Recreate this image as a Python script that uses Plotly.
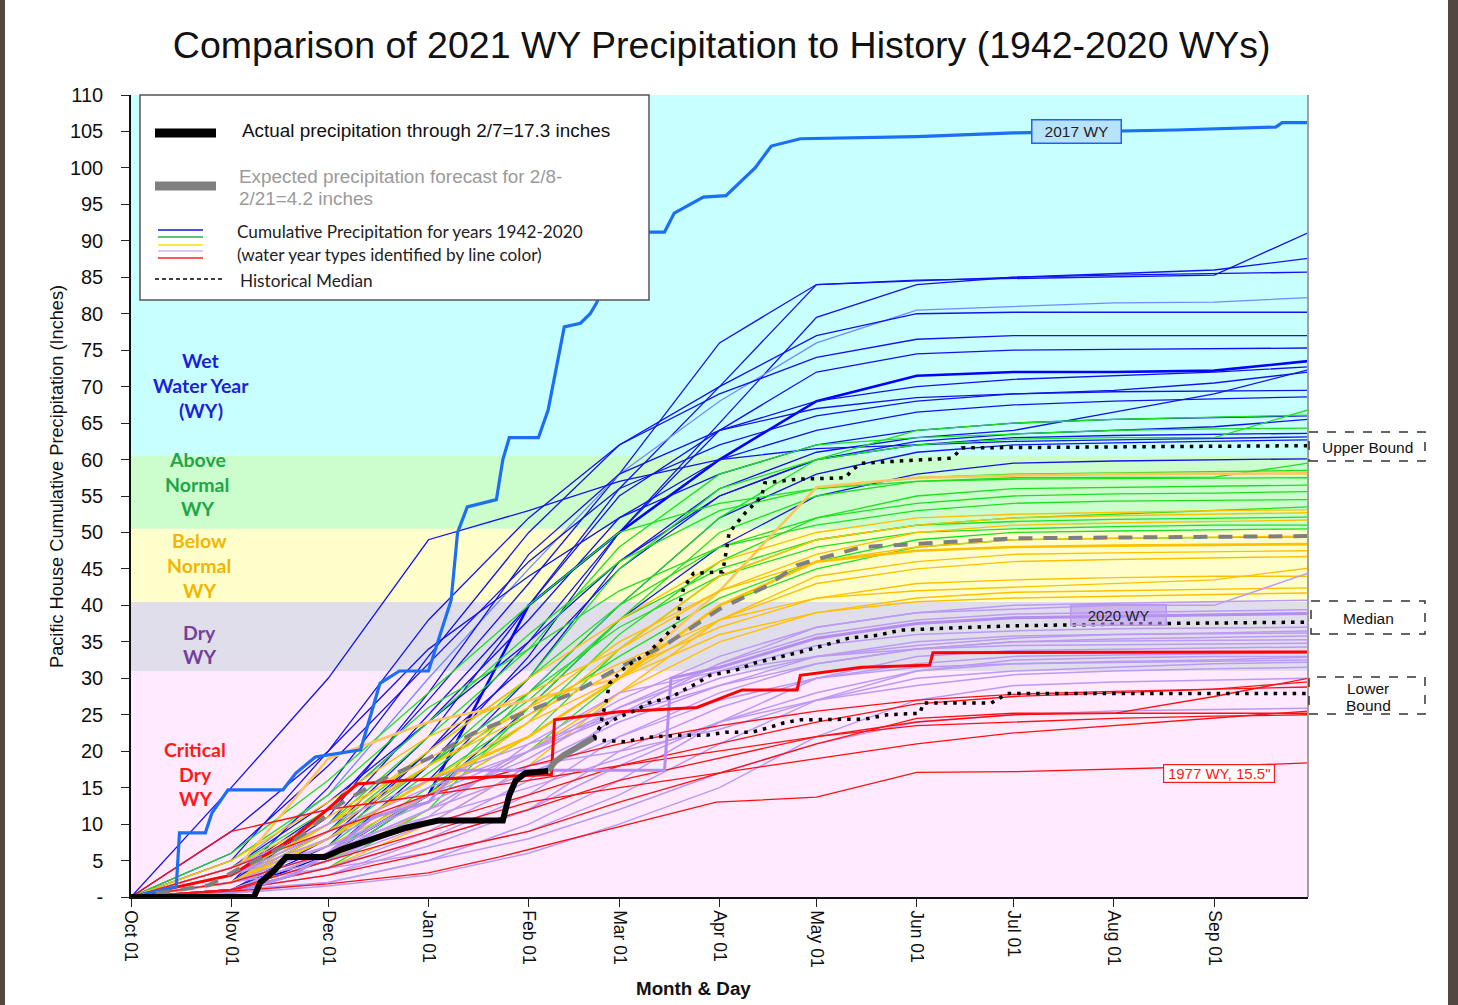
import plotly.graph_objects as go

# ---------------- DATA ----------------
MONTH_DATES = ["2020-10-01", "2020-11-01", "2020-12-01", "2021-01-01", "2021-02-01",
               "2021-03-01", "2021-04-01", "2021-05-01", "2021-06-01", "2021-07-01",
               "2021-08-01", "2021-09-01", "2021-09-30"]

WET_YEARS = [
    [0, 2, 12, 27, 43, 58, 76, 84, 84.6, 84.8, 85, 85.3, 91.1],
    [0, 3, 9, 22, 40, 56, 70, 84, 84.5, 85, 85.5, 86, 87.6],
    [0, 1, 7, 20, 35, 50, 65, 79.5, 84, 85, 85.3, 85.5, 85.7],
    [0, 4, 14, 30, 45, 58, 68, 76, 80.5, 81, 81.5, 81.6, 82.2],
    [0, 2, 15, 33, 50, 62, 70, 77, 80, 80.2, 80.2, 80.2, 80.2],
    [0, 5, 20, 38, 52, 62, 69, 74, 76.5, 77, 77, 77, 77],
    [0, 1, 6, 18, 33, 50, 64, 72, 74.5, 75, 75.1, 75.2, 75.3],
    [0, 0.5, 6, 14, 40, 50, 60, 68, 71.5, 72, 72, 72.2, 73.5],
    [0, 3, 10, 25, 40, 55, 64, 68, 70, 71, 71.5, 72, 72.7],
    [0, 6, 18, 32, 46, 56, 62, 66, 68, 69, 69.5, 70.5, 72],
    [0, 2, 11, 28, 47, 58, 64, 67, 68.5, 69, 69.3, 69.4, 69.5],
    [0, 4, 13, 24, 38, 52, 60, 64, 66.5, 67.5, 68, 68.3, 68.6],
    [0, 1, 8, 20, 32, 45, 55, 60, 62.5, 63.5, 64, 64.5, 65.5],
    [0, 3, 12, 24, 35, 46, 55, 60, 62, 63, 63.3, 63.5, 63.6],
    [0, 15, 30, 49, 53, 57, 60, 61.5, 62, 62.5, 62.7, 62.9, 63.1],
    [0, 2, 9, 18, 28, 40, 52, 58, 61, 62, 62.3, 62.5, 62.7],
    [0, 1, 5, 14, 26, 38, 48, 55, 58, 59.5, 59.8, 60, 60.1],
    [0, 9, 20, 34, 44, 52, 58, 62, 64, 65, 65.5, 65.8, 66],
    [0, 2, 8, 16, 30, 46, 56, 61, 63, 64, 66.5, 69, 72.3],
]

ABOVE_NORMAL_YEARS = [
    [0, 2, 8, 18, 30, 45, 56, 60, 62, 62.8, 63, 63, 66.8],
    [0, 1, 5, 14, 28, 40, 52, 60, 64, 65, 65.5, 65.8, 66.1],
    [0, 3, 10, 22, 34, 48, 58, 62, 63, 63.5, 64, 64.2, 64.3],
    [0, 2, 7, 17, 27, 38, 50, 55, 57, 57.5, 57.5, 57.6, 59.5],
    [0, 4, 12, 24, 36, 46, 53, 56, 57, 57.3, 57.4, 57.5, 57.5],
    [0, 1, 6, 15, 24, 36, 46, 52, 55, 56, 56.2, 56.4, 56.5],
    [0, 2, 9, 20, 30, 40, 48, 52, 54, 55, 55.3, 55.4, 55.6],
    [0, 5, 14, 26, 34, 42, 48, 51, 53, 54, 54.3, 54.4, 54.5],
    [0, 2, 6, 14, 22, 34, 44, 49, 51, 52, 52.5, 53, 53.5],
    [0, 1, 4, 12, 26, 38, 45, 49, 51, 51.5, 51.8, 52, 52.1],
    [0, 3, 10, 18, 28, 37, 44, 48, 50, 50.5, 50.8, 51, 51],
    [0, 2, 8, 16, 25, 33, 41, 46, 49, 50, 50.2, 50.4, 50.5],
    [0, 1, 5, 12, 20, 30, 40, 45, 48, 49, 49.2, 49.3, 49.4],
    [0, 6, 16, 28, 40, 50, 54, 56, 57.5, 58, 58.2, 58.4, 58.5],
]

BELOW_NORMAL_YEARS = [
    [0, 3, 19, 24, 27, 30, 42, 56.2, 57.5, 57.8, 58, 58, 58.1],
    [0, 2, 8, 16, 22, 30, 40, 46, 47.5, 48, 48.2, 48.3, 48.4],
    [0, 3, 10, 20, 30, 38, 46, 50, 52, 52.5, 52.8, 53, 53.1],
    [0, 1, 6, 14, 24, 34, 44, 49, 51, 52, 52.3, 52.5, 52.7],
    [0, 2, 9, 18, 26, 35, 42, 47, 50, 51, 51.3, 51.5, 51.7],
    [0, 2, 7, 14, 22, 30, 38, 43, 45, 46, 46.3, 46.5, 46.7],
    [0, 4, 11, 19, 26, 32, 38, 41, 42, 42.5, 43, 43.5, 45.1],
    [0, 1, 5, 12, 20, 28, 35, 39, 41, 41.8, 42, 42.2, 42.4],
    [0, 3, 8, 16, 24, 30, 36, 39, 40.5, 41, 41.3, 41.5, 41.7],
    [0, 5, 13, 22, 28, 34, 42, 46, 48, 49, 49.2, 49.4, 49.5],
    [0, 2, 10, 18, 25, 31, 37, 41, 43, 43.5, 43.8, 44, 44],
    [0, 1, 4, 10, 18, 28, 38, 44, 46, 47, 47.2, 47.4, 47.5],
]

DRY_YEARS = [
    [0, 2, 6, 12, 20, 27, 33, 37, 39, 39.5, 40, 40, 44.4],
    [0, 1, 4, 9, 16, 25, 32, 37, 39, 40, 40.3, 40.5, 40.7],
    [0, 3, 8, 14, 20, 26, 32, 36, 38, 38.8, 39, 39.2, 39.4],
    [0, 2, 5, 10, 18, 24, 29, 33, 35, 35.8, 36, 36.1, 36.2],
    [0, 1, 3, 8, 14, 22, 28, 32, 34, 35, 35.1, 35.2, 35.3],
    [0, 3, 9, 15, 20, 25, 30, 33, 34, 34.5, 34.6, 34.7, 34.8],
    [0, 1, 2, 5, 10, 16, 24, 30, 33, 33.8, 34, 34.1, 34.3],
    [0, 2, 6, 12, 17, 22, 27, 30, 31.5, 32, 32.3, 32.5, 32.9],
    [0, 1, 4, 8, 12, 18, 24, 28, 31, 32, 32.2, 32.3, 32.5],
    [0, 0.5, 2, 5, 8, 12, 17, 21, 24, 25, 25.5, 25.7, 25.9],
    [0, 2, 7, 13, 19, 26, 31, 34.5, 36, 36.5, 36.8, 36.9, 37],
    [0, 1, 3, 7, 12, 20, 26, 30, 32, 33, 33.2, 33.4, 33.5],
    [0, 3, 7, 11, 15, 19, 24, 27, 29, 30.5, 31, 31.3, 31.5],
    [0, 1, 5, 11, 21, 28, 31, 33, 34.5, 35.5, 36, 36.2, 36.5],
    [0, 0.5, 1.5, 3, 6, 10, 15, 22, 27, 29, 29.5, 29.8, 30],
    [0, 2, 4, 6, 9, 14, 21, 27, 31, 32.5, 32.8, 33, 33],
    [0, 4, 10, 16, 21, 25, 29, 32, 34, 35, 35.4, 35.6, 35.8],
    [0, 1, 6, 14, 18, 20, 23, 27, 30, 31, 31.5, 32, 32.2],
]

CRITICAL_YEARS = [
    [0, 1, 4, 8, 12, 16, 19, 22, 24, 25, 25.2, 27.5, 30],
    [0, 2, 6, 10, 14, 18, 21, 24, 26.5, 27.5, 28, 28.5, 29.5],
    [0, 1, 3, 6, 9, 13, 17, 21, 24.5, 25.2, 25.2, 25.2, 25.2],
    [0, 9, 12, 14, 16, 18, 20, 22, 23.5, 24, 24.5, 24.8, 25],
    [0, 4, 9, 14, 18, 21, 23.5, 25.5, 27, 27.8, 28.2, 28.5, 28.8],
    [0, 1, 5, 9, 13, 15, 17, 19, 21, 22.5, 23.5, 24.5, 25.5],
]

WY2017_DAYS = ["10-01", "10-15", "10-16", "10-24", "10-26", "10-31", "11-17", "11-21", "11-27",
               "12-11", "12-17", "12-23", "01-01", "01-08", "01-10", "01-13", "01-22", "01-24",
               "01-26", "02-04", "02-07", "02-12", "02-17", "02-20", "02-22", "03-01", "03-05",
               "03-15", "03-18", "03-24", "03-27", "04-03", "04-12", "04-17", "04-26", "06-01",
               "07-01", "08-20", "09-20", "09-22", "09-30"]
WY2017_VALUES = [0, 1.4, 8.8, 8.8, 11.5, 14.7, 14.7, 17, 19.2, 20.2, 29.3, 31, 31, 40.7, 50,
                 53.5, 54.5, 60, 63, 63, 66.8, 78.2, 78.7, 80, 81.5, 89, 91.2, 91.2, 93.8, 95.2,
                 96, 96.2, 100, 103, 104, 104.3, 104.8, 105.2, 105.6, 106.2, 106.2]

WY2020_DAYS = ["10-01", "11-01", "11-20", "12-01", "12-15", "01-01", "01-10", "03-15", "03-17",
               "04-01", "05-01", "06-01", "07-01", "09-30"]
WY2020_VALUES = [0, 0.5, 3, 6, 11, 13, 17.4, 17.4, 30, 31.5, 35.5, 37.5, 38.3, 38.9]

WY1977_DAYS = ["10-01", "11-01", "12-01", "01-01", "01-23", "03-01", "03-31", "05-01", "06-01",
               "07-01", "08-01", "09-01", "09-30"]
WY1977_VALUES = [0, 0.8, 1.8, 3.3, 5.5, 9.6, 13, 13.7, 17.1, 17.2, 17.5, 17.9, 18.4]

CRIT_HILITE_DAYS = ["10-01", "11-01", "11-20", "12-10", "12-25", "02-08", "02-09", "03-01",
                    "03-25", "04-08", "04-25", "04-26", "05-15", "06-05", "06-06", "09-30"]
CRIT_HILITE_VALUES = [0, 3, 8, 15.5, 16, 16.8, 24.3, 25.4, 26, 28.4, 28.4, 30.4, 31.5, 31.8,
                      33.5, 33.6]

HIST_MEDIAN_DAYS = ["10-01", "10-25", "11-01", "11-17", "11-24", "12-03", "12-17", "01-01",
                    "01-15", "02-01", "02-15", "03-01", "03-15", "04-01", "04-15", "04-25",
                    "05-01", "05-15", "06-15", "07-01", "09-30"]
HIST_MEDIAN_VALUES = [0, 1.6, 3.3, 6.9, 8.8, 12.3, 16, 19, 22.5, 25.5, 28, 31.5, 34.5, 39.5,
                      42.5, 45.5, 46.3, 48, 48.8, 49.2, 49.5]

ACTUAL_DAYS = ["10-01", "11-08", "11-10", "11-14", "11-18", "11-30", "12-05", "12-12", "12-18",
               "12-25", "01-04", "01-24", "01-26", "01-28", "01-31", "02-07"]
ACTUAL_VALUES = [0, 0, 2, 3.5, 5.5, 5.5, 6.5, 7.5, 8.5, 9.5, 10.5, 10.5, 14, 16, 17, 17.3]

FORECAST_DAYS = ["02-07", "02-09", "02-12", "02-16", "02-21"]
FORECAST_VALUES = [17.3, 18.5, 19.5, 20.5, 21.8]

UPPER_DAYS = ["02-21", "02-23", "02-25", "02-26", "03-03", "03-10", "03-15", "03-19", "03-20",
              "03-21", "03-24", "04-02", "04-03", "04-04", "04-09", "04-14", "04-15", "04-25",
              "05-10", "05-12", "05-15", "06-12", "06-15", "09-30"]
UPPER_VALUES = [21.8, 23.3, 27, 29.3, 31.6, 33.5, 35.7, 37.6, 40.7, 42.5, 44.4, 44.6, 47.2, 50,
                52.7, 54.9, 56.8, 57.3, 57.5, 58.6, 59.5, 60.2, 61.6, 61.9]

MEDIAN_DAYS = ["02-21", "02-23", "03-01", "03-06", "03-10", "03-17", "03-21", "03-25", "03-29",
               "04-06", "04-12", "04-19", "04-26", "05-04", "05-11", "05-20", "05-27", "06-12",
               "07-01", "08-13", "09-30"]
MEDIAN_VALUES = [21.8, 23.3, 24.7, 25.6, 26.6, 27.4, 28.4, 29.3, 30.4, 31.1, 32.1, 32.8, 33.6,
                 34.6, 35.5, 35.9, 36.6, 36.9, 37.2, 37.5, 37.7]

LOWER_DAYS = ["02-21", "02-23", "03-03", "03-10", "03-20", "03-28", "04-03", "04-11", "04-16",
              "04-21", "04-26", "05-16", "05-23", "06-02", "06-03", "06-24", "06-29", "09-30"]
LOWER_VALUES = [21.8, 21.5, 21.3, 21.9, 22.2, 22.2, 22.6, 22.6, 23.2, 23.9, 24.3, 24.4, 25,
                25.2, 26.6, 26.6, 27.9, 27.9]

BAND_LIMITS = [0, 31, 40.5, 50.5, 60.5, 110]   # Critical, Dry, Below, Above, Wet
Y_TICKS = list(range(0, 111, 5))
Y_TICK_TEXT = ["-"] + [str(v) for v in Y_TICKS[1:]]

TITLE = "Comparison of 2021 WY Precipitation to History (1942-2020 WYs)"

# ---------------- HELPERS ----------------
def wy_date(md):
    m = int(md[:2])
    return ("2020-" if m >= 10 else "2021-") + md


def px(x):
    return (x - 131) / 1177.0


def py(y):
    return (897 - y) / 802.0


FONT = "Liberation Sans, Arial, sans-serif"
CAL = "Lato, Carlito, Calibri, sans-serif"

fig = go.Figure()


def add_line(xs, ys, color, width, dash=None):
    fig.add_trace(go.Scatter(x=xs, y=ys, mode="lines", hoverinfo="skip",
                             line=dict(color=color, width=width, dash=dash),
                             showlegend=False))


for i, row in enumerate(WET_YEARS):
    color = "#6f8cff" if i == 3 else "#1212ee"
    width = 2.6 if i == 7 else 1.3
    add_line(MONTH_DATES, row, "#0000ff" if i == 7 else color, width)
for row in ABOVE_NORMAL_YEARS:
    add_line(MONTH_DATES, row, "#1ee01e", 1.3)
for i, row in enumerate(BELOW_NORMAL_YEARS):
    add_line(MONTH_DATES, row, "#ffc000" if i else "#ffc45a", 2.6 if i in (0, 1) else 1.4)
for row in DRY_YEARS:
    add_line(MONTH_DATES, row, "#bb99f5", 1.5)
for row in CRITICAL_YEARS:
    add_line(MONTH_DATES, row, "#ff1010", 1.3)

add_line([wy_date(d) for d in WY2020_DAYS], WY2020_VALUES, "#b48cf2", 3)
add_line([wy_date(d) for d in WY1977_DAYS], WY1977_VALUES, "#ff1010", 1.3)
add_line([wy_date(d) for d in CRIT_HILITE_DAYS], CRIT_HILITE_VALUES, "#ff0000", 3)
add_line([wy_date(d) for d in WY2017_DAYS], WY2017_VALUES, "#1a6ff5", 3.2)
add_line([wy_date(d) for d in HIST_MEDIAN_DAYS], HIST_MEDIAN_VALUES, "#7f7f7f", 4, "14px,11px")
add_line([wy_date(d) for d in UPPER_DAYS], UPPER_VALUES, "#000000", 3.5, "3.5px,6px")
add_line([wy_date(d) for d in MEDIAN_DAYS], MEDIAN_VALUES, "#000000", 3.5, "3.5px,6px")
add_line([wy_date(d) for d in LOWER_DAYS], LOWER_VALUES, "#000000", 3.5, "3.5px,6px")
add_line([wy_date(d) for d in FORECAST_DAYS], FORECAST_VALUES, "#808080", 6)
add_line([wy_date(d) for d in ACTUAL_DAYS], ACTUAL_VALUES, "#000000", 6)

# ---------------- SHAPES ----------------
shapes = []
band_colors = ["#ffeaff", "#e1deeb", "#ffffcc", "#ccfdcc", "#c8ffff"]
for i, c in enumerate(band_colors):
    shapes.append(dict(type="rect", xref="paper", yref="y", x0=0, x1=1,
                       y0=BAND_LIMITS[i], y1=BAND_LIMITS[i + 1], fillcolor=c,
                       line=dict(width=0), layer="below"))
# right edge of plot
shapes.append(dict(type="line", xref="paper", yref="paper", x0=1, x1=1, y0=0, y1=1,
                   line=dict(color="#a0a0a0", width=2)))
# outer dark frame
shapes.append(dict(type="rect", xref="paper", yref="paper", x0=px(0), x1=px(5),
                   y0=py(1005), y1=py(0), fillcolor="#534741", line=dict(width=0)))
shapes.append(dict(type="rect", xref="paper", yref="paper", x0=px(1448), x1=px(1458),
                   y0=py(1005), y1=py(0), fillcolor="#534741", line=dict(width=0)))
# legend box
shapes.append(dict(type="rect", xref="paper", yref="paper", x0=px(140), x1=px(649),
                   y0=py(300), y1=py(95), fillcolor="white",
                   line=dict(color="#555555", width=1.5)))
shapes.append(dict(type="line", xref="paper", yref="paper", x0=px(155), x1=px(216),
                   y0=py(133), y1=py(133), line=dict(color="black", width=9)))
shapes.append(dict(type="line", xref="paper", yref="paper", x0=px(155), x1=px(216),
                   y0=py(186), y1=py(186), line=dict(color="#808080", width=9)))
for yy, c in [(230, "#1212ee"), (237, "#20b050"), (245, "#ffe000"), (251, "#cfb4f5"),
              (258, "#ff2020")]:
    shapes.append(dict(type="line", xref="paper", yref="paper", x0=px(158), x1=px(203),
                       y0=py(yy), y1=py(yy), line=dict(color=c, width=1.5)))
shapes.append(dict(type="line", xref="paper", yref="paper", x0=px(155), x1=px(225),
                   y0=py(279), y1=py(279), line=dict(color="black", width=1.5, dash="4px,3px")))
# dashed label boxes at the right
for (x0, x1, y0, y1) in [(1309, 1425, 432, 461), (1311, 1425, 601, 634), (1309, 1425, 677, 714)]:
    shapes.append(dict(type="rect", xref="paper", yref="paper", x0=px(x0), x1=px(x1),
                       y0=py(y1), y1=py(y0), fillcolor="white",
                       line=dict(color="#333333", width=1.5, dash="dash")))

# ---------------- ANNOTATIONS ----------------
ann = []


def text(x, y, s, size, color="#111111", family=FONT, xanchor="center", bold=False, **kw):
    if bold:
        s = "<b>" + s + "</b>"
    ann.append(dict(x=px(x), y=py(y), xref="paper", yref="paper", text=s, showarrow=False,
                    xanchor=xanchor, yanchor="middle", font=dict(size=size, color=color,
                                                                 family=family), **kw))


text(240, 130, "Actual precipitation through 2/7=17.3 inches", 18.9, "#111111", xanchor="left")
text(237, 177, "Expected precipitation forecast for 2/8-", 18.9, "#9a9a9a", xanchor="left")
text(237, 198, "2/21=4.2 inches", 18.9, "#9a9a9a", xanchor="left")
text(235, 232, "Cumulative Precipitation for years 1942-2020", 17.2, "#222222", CAL, "left")
text(235, 254, "(water year types identified by line color)", 17.2, "#222222", CAL, "left")
text(238, 280, "Historical Median", 17.2, "#222222", CAL, "left")

LS = 19.5
for s, y in [("Wet", 360), ("Water Year", 385), ("(WY)", 410)]:
    text(201, y, s, LS, "#1f1fd8", CAL, bold=True)
for s, y in [("Above", 459), ("Normal", 484), ("WY", 509)]:
    text(197, y, s, LS, "#1fa64a", CAL, bold=True)
for s, y in [("Below", 540), ("Normal", 565), ("WY", 590)]:
    text(199, y, s, LS, "#f2b600", CAL, bold=True)
for s, y in [("Dry", 632), ("WY", 656)]:
    text(199, y, s, LS, "#74409a", CAL, bold=True)
for s, y in [("Critical", 749), ("Dry", 774), ("WY", 798)]:
    text(195, y, s, LS, "#ff1a1a", CAL, bold=True)

text(1076, 131, "2017 WY", 15.5, "#222222", bgcolor="#b8e4fb", bordercolor="#1f5fff",
     borderwidth=1.5, width=86, height=20)
text(1118, 615, "2020 WY", 15, "#222222", bgcolor="rgba(185,150,240,0.55)",
     bordercolor="#b898ee", borderwidth=1.5, width=92, height=17)
text(1219, 773, "1977 WY, 15.5\"", 15, "#ff1a1a", bgcolor="white", bordercolor="#ff1a1a",
     borderwidth=1.2, width=108, height=15)
text(1367, 447, "Upper Bound", 15.5)
text(1368, 618, "Median", 15.5)
text(1368, 688, "Lower", 15.5)
text(1368, 705, "Bound", 15.5)

ann.append(dict(x=px(57), y=py(477), xref="paper", yref="paper", xanchor="center",
                yanchor="middle",
                text="Pacific House Cumulative Precipitation (Inches)", showarrow=False,
                textangle=-90, font=dict(size=18.2, color="#111111", family=FONT)))
ann.append(dict(x=px(693), y=py(988), xref="paper", yref="paper", xanchor="center",
                yanchor="middle",
                text="<b>Month &amp; Day</b>", showarrow=False,
                font=dict(size=18.8, color="#111111", family=FONT)))

fig.update_layout(
    width=1458, height=1005,
    margin=dict(l=131, r=150, t=95, b=108),
    paper_bgcolor="white", plot_bgcolor="white",
    title=dict(text=TITLE, x=0.495, xanchor="center", y=1 - 45 / 1005, yanchor="middle",
               font=dict(size=37.5, color="#111111", family=FONT)),
    shapes=shapes, annotations=ann, showlegend=False,
    xaxis=dict(type="date", range=["2020-10-01", "2021-09-30"], tick0="2020-10-01",
               dtick="M1", tickformat="%b %d", tickangle=90, ticks="outside", ticklen=8,
               tickcolor="#222222", showgrid=False, zeroline=False, showline=True,
               linecolor="#111111", linewidth=1.5,
               tickfont=dict(size=17.5, color="#111111", family=FONT)),
    yaxis=dict(range=[0, 110], tickvals=Y_TICKS, ticktext=Y_TICK_TEXT, ticks="outside",
               ticklen=8, tickcolor="#222222", showgrid=False, zeroline=False, showline=True,
               linecolor="#111111", linewidth=1.5, ticklabelstandoff=14,
               tickfont=dict(size=20, color="#111111", family=FONT)),
)

fig.write_html("out.html", config={"displayModeBar": False},
               post_script="document.body.style.margin='0';document.body.style.padding='0';")
